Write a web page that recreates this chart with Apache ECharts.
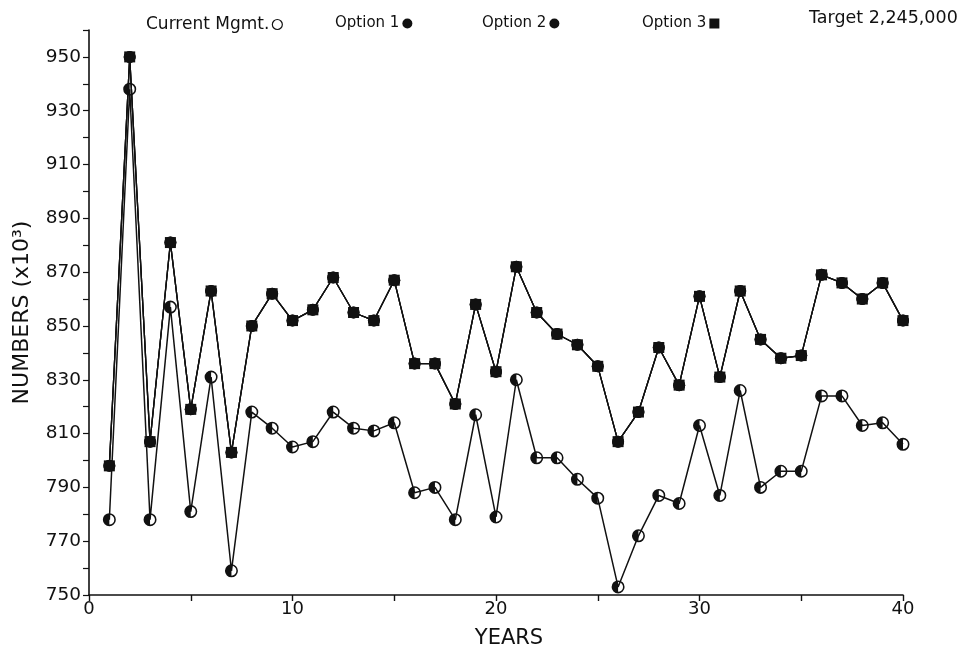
<!DOCTYPE html>
<html>
<head>
<meta charset="utf-8">
<script src="https://cdn.jsdelivr.net/npm/echarts@6/dist/echarts.min.js"></script>
<style>
  html, body { margin: 0; padding: 0; background: #fff; }
  #chart { width: 964px; height: 656px; }
</style>
</head>
<body>
<div id="chart"></div>
<script>
// Simulated herd size (thousands) over a 40-year horizon
const years = [1, 2, 3, 4, 5, 6, 7, 8, 9, 10,
  11, 12, 13, 14, 15, 16, 17, 18, 19, 20,
  21, 22, 23, 24, 25, 26, 27, 28, 29, 30,
  31, 32, 33, 34, 35, 36, 37, 38, 39, 40];

const currentMgmt = [778, 938, 778, 857, 781, 831, 759, 818, 812, 805,
  807, 818, 812, 811, 814, 788, 790, 778, 817, 779,
  830, 801, 801, 793, 786, 753, 772, 787, 784, 813,
  787, 826, 790, 796, 796, 824, 824, 813, 814, 806];

// The three alternative options produce the same trajectory
const option1 = [798, 950, 807, 881, 819, 863, 803, 850, 862, 852,
  856, 868, 855, 852, 867, 836, 836, 821, 858, 833,
  872, 855, 847, 843, 835, 807, 818, 842, 828, 861,
  831, 863, 845, 838, 839, 869, 866, 860, 866, 852];
const option2 = option1.slice();
const option3 = option1.slice();

const yLabelValues = [750, 770, 790, 810, 830, 850, 870, 890, 910, 930, 950];
const xLabelValues = [0, 10, 20, 30, 40];
const targetText = 'Target 2,245,000';

const pairs = (vals) => years.map((y, i) => [y, vals[i]]);

// Ring with one half filled in
const halfCircle = 'path://M0,-10A10,10 0 1,1 0,10A10,10 0 1,1 0,-10Z' +
  'M0,-7.6A7.6,7.6 0 1,0 0,7.6A7.6,7.6 0 1,0 0,-7.6Z' +
  'M0,-7.6A7.6,7.6 0 0,0 0,7.6Z';

const FONT = 'DejaVu Sans';
const INK = '#111';

const chart = echarts.init(document.getElementById('chart'), null, { renderer: 'canvas' });

function legendAt(left, name, icon, itemStyle, fontSize) {
  return {
    left: left, top: 11,
    align: 'right',
    itemWidth: 10, itemHeight: 10,
    textStyle: { fontFamily: FONT, fontSize: fontSize, color: INK, padding: [0, -2, 0, 0] },
    data: [{ name: name, icon: icon, itemStyle: itemStyle }]
  };
}

chart.setOption({
  animation: false,
  backgroundColor: '#fff',
  grid: { left: 89, right: 61, top: 30, bottom: 61 },
  legend: [
    legendAt(141, 'Current Mgmt.', 'circle', { color: '#fff', borderColor: INK, borderWidth: 1.2 }, 17),
    legendAt(330, 'Option 1', 'circle', { color: INK }, 15),
    legendAt(477, 'Option 2', 'circle', { color: INK }, 15),
    legendAt(637, 'Option 3', 'rect', { color: INK }, 15)
  ],
  graphic: [{
    type: 'text', left: 809, top: 9,
    style: { text: targetText, font: '17.5px ' + FONT, fill: INK }
  }],
  xAxis: {
    type: 'value', min: 0, max: 40, interval: 5,
    name: 'YEARS', nameLocation: 'middle', nameGap: 33,
    nameTextStyle: { fontFamily: FONT, fontSize: 21, color: INK, padding: [0, 0, 0, 26] },
    axisLine: { lineStyle: { color: INK, width: 1.6 } },
    axisTick: { show: true, length: 6, lineStyle: { color: INK, width: 1.4 } },
    axisLabel: {
      customValues: xLabelValues,
      fontFamily: FONT, fontSize: 18, color: INK, margin: 5
    },
    splitLine: { show: false }
  },
  yAxis: {
    type: 'value', min: 750, max: 960, interval: 10,
    name: 'NUMBERS (x10\u00b3)', nameLocation: 'middle', nameGap: 56,
    nameTextStyle: { fontFamily: FONT, fontSize: 22, color: INK },
    axisLine: { show: true, lineStyle: { color: INK, width: 1.6 } },
    axisTick: { show: true, length: 6, lineStyle: { color: INK, width: 1.2 } },
    axisLabel: {
      customValues: yLabelValues,
      fontFamily: FONT, fontSize: 18.5, color: INK, margin: 8
    },
    splitLine: { show: false }
  },
  series: [
    {
      name: 'Current Mgmt.', type: 'line', data: pairs(currentMgmt),
      symbol: halfCircle, symbolSize: 13, symbolKeepAspect: true,
      lineStyle: { color: INK, width: 1.5 },
      itemStyle: { color: INK },
      z: 3
    },
    {
      name: 'Option 1', type: 'line', data: pairs(option1),
      symbol: 'circle', symbolSize: 12,
      lineStyle: { color: INK, width: 1.3 },
      itemStyle: { color: INK },
      z: 4
    },
    {
      name: 'Option 2', type: 'line', data: pairs(option2),
      symbol: 'circle', symbolSize: 12,
      lineStyle: { color: INK, width: 1.3 },
      itemStyle: { color: INK },
      z: 4
    },
    {
      name: 'Option 3', type: 'line', data: pairs(option3),
      symbol: 'rect', symbolSize: 11,
      lineStyle: { color: INK, width: 1.3 },
      itemStyle: { color: INK },
      z: 5
    }
  ]
});
</script>
</body>
</html>
